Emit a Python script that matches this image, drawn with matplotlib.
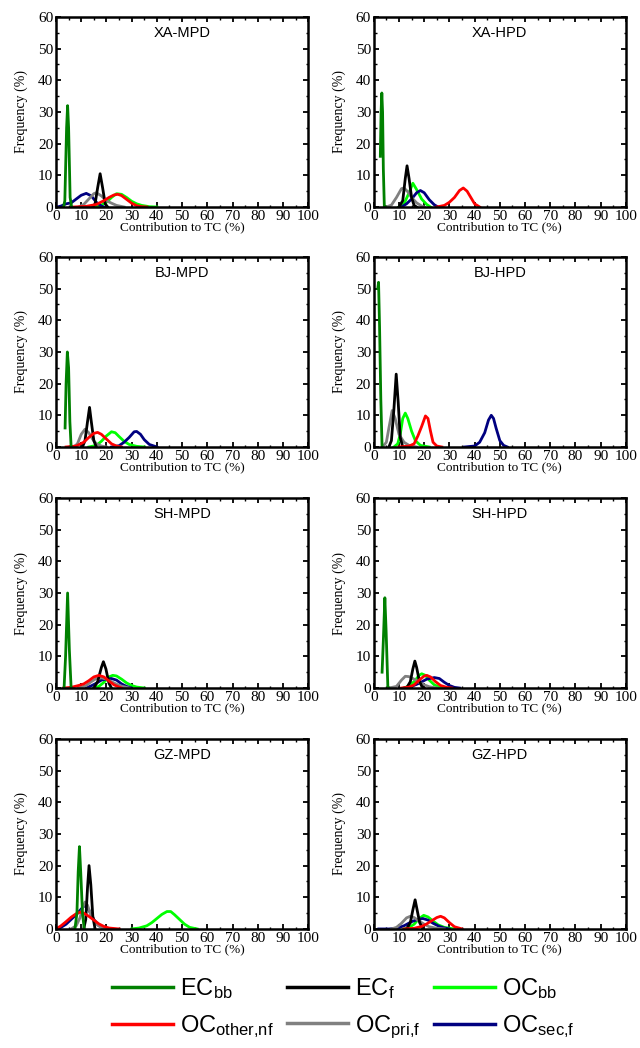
import matplotlib
matplotlib.use("Agg")
import matplotlib.pyplot as plt
from matplotlib.ticker import MultipleLocator
from matplotlib.lines import Line2D

plt.rcParams['font.family'] = ['Liberation Serif', 'DejaVu Serif']
plt.rcParams['mathtext.default'] = 'regular'

# series names, colours and legend labels
species = ['EC_bb', 'EC_f', 'OC_bb', 'OC_other_nf', 'OC_pri_f', 'OC_sec_f']
colors = {'EC_bb': '#008000', 'EC_f': '#000000', 'OC_bb': '#00ff00',
          'OC_other_nf': '#ff0000', 'OC_pri_f': '#808080', 'OC_sec_f': '#000080'}
labels = {'EC_bb': r'EC$_{bb}$', 'EC_f': r'EC$_{f}$', 'OC_bb': r'OC$_{bb}$',
          'OC_other_nf': r'OC$_{other{,}nf}$', 'OC_pri_f': r'OC$_{pri{,}f}$',
          'OC_sec_f': r'OC$_{sec{,}f}$'}
panel_titles = ['XA-MPD', 'XA-HPD', 'BJ-MPD', 'BJ-HPD',
                'SH-MPD', 'SH-HPD', 'GZ-MPD', 'GZ-HPD']

# (contribution %, frequency %)
xa_mpd = {
    'EC_bb': [(3, 0), (3.5, 2), (4.2, 25), (4.6, 32), (5.0, 25), (5.6, 3), (6.2, 0)],
    'EC_f': [(14.5, 0), (15.5, 1), (16.5, 6), (17.5, 10.5), (18.5, 6), (19.5, 1), (20.5, 0)],
    'OC_bb': [(15, 0), (18, 0.6), (20, 1.5), (22, 3), (24, 4.2), (26, 4), (28, 3), (30, 1.8),
              (32, 1), (34, 0.5), (37, 0.1), (40, 0)],
    'OC_other_nf': [(7, 0), (12, 0.2), (16, 0.8), (19, 2), (21, 3), (23, 3.8), (24.5, 4),
                    (26, 3.6), (28, 2.4), (30, 1.2), (32, 0.4), (34, 0.1), (36, 0)],
    'OC_pri_f': [(9, 0), (11, 0.8), (13, 2.5), (15, 4.2), (16, 4.5), (18, 3.5), (20, 2),
                 (22, 1.2), (24, 0.5), (27, 0)],
    'OC_sec_f': [(0.5, 0), (2, 0.3), (4, 1), (6, 1.3), (8, 2.5), (10, 3.7), (12, 4.3),
                 (14, 3.5), (16, 1.5), (18, 0.3), (19, 0)],
}
xa_hpd = {
    'EC_bb': [(2.6, 16), (2.9, 30), (3.2, 36), (3.5, 30), (3.8, 12), (4.2, 0), (4.6, 0)],
    'EC_f': [(10, 0), (11.5, 2), (12.5, 9), (13.2, 13), (14, 9), (15, 3), (16, 0.5), (17, 0)],
    'OC_bb': [(10, 0), (12, 1), (14, 4.5), (15.5, 7.5), (17, 5.5), (19, 2.5), (21, 0.8), (22.5, 0)],
    'OC_other_nf': [(25, 0), (28, 0.5), (30, 1.5), (32, 3), (34, 5.2), (35.5, 6), (37, 5),
                    (38.5, 3), (40, 1), (42, 0)],
    'OC_pri_f': [(5, 0), (7, 0.6), (9, 3), (11, 5.8), (12, 6), (13.5, 4.8), (15, 3), (17, 1.3),
                 (19, 0.3), (20, 0)],
    'OC_sec_f': [(11, 0), (13, 1), (15, 2.5), (17, 4.5), (18.5, 5.2), (20, 4.5), (22, 2.3),
                 (24, 0.7), (25.5, 0)],
}
bj_mpd = {
    'EC_bb': [(3.6, 6), (4, 20), (4.5, 30), (5, 25), (5.5, 8), (6, 0)],
    'EC_f': [(10.5, 0), (11.5, 2), (12.5, 8), (13.3, 12.5), (14, 8), (15, 2), (16, 0)],
    'OC_bb': [(13, 0), (16, 0.5), (18, 1.8), (20, 3.5), (22, 4.8), (23.5, 4.5), (25, 3.3),
              (27, 1.8), (29, 0.8), (32, 0.2), (35, 0)],
    'OC_other_nf': [(4, 0), (8, 0.3), (11, 1.5), (13, 3), (15, 4.3), (16.5, 4.6), (18, 4),
                    (20, 2.5), (22, 1), (24, 0.3), (26, 0)],
    'OC_pri_f': [(7, 0), (8.5, 1), (10, 4), (11.5, 5.6), (13, 4.5), (14.5, 2.5), (16, 1),
                 (18, 0.3), (20, 0)],
    'OC_sec_f': [(22, 0), (25, 0.4), (27, 1.5), (29, 3), (31, 4.8), (32, 4.9), (33.5, 4),
                 (35, 2.3), (37, 0.8), (40, 0)],
}
bj_hpd = {
    'EC_bb': [(1.6, 50), (1.9, 52), (2.3, 38), (2.8, 15), (3.3, 0)],
    'EC_f': [(6, 0), (7, 2), (8, 12), (8.9, 23), (9.7, 14), (10.5, 3), (11.5, 0)],
    'OC_bb': [(8, 0), (9.5, 1), (10.5, 4), (11.5, 9), (12.5, 10.7), (13.5, 9), (15, 5),
              (16.5, 2), (18.5, 0.5), (22, 0)],
    'OC_other_nf': [(10, 0), (14, 0.3), (16, 1), (17.5, 3.5), (19, 6.5), (20.5, 9.8),
                    (21.5, 9), (22.5, 5), (23.5, 1.5), (25, 0.3), (27, 0)],
    'OC_pri_f': [(3.5, 0), (5, 1.5), (6, 6), (7.3, 11.5), (8.5, 9), (10, 4), (12, 1.5),
                 (14, 0.5), (17, 0)],
    'OC_sec_f': [(36, 0), (40, 0.3), (42, 1.5), (44, 4.5), (45.5, 8.5), (46.6, 10), (47.5, 9),
                 (48.5, 6), (50, 2), (51.5, 0.5), (53, 0)],
}
sh_mpd = {
    'EC_bb': [(3.2, 0), (3.8, 10), (4.6, 30), (5.3, 12), (6, 0)],
    'EC_f': [(15, 0), (16.5, 2), (18, 6.5), (18.8, 8.3), (19.8, 6), (21, 1.5), (22, 0)],
    'OC_bb': [(15, 0), (17, 0.5), (19, 1.8), (21, 3.5), (22.5, 4), (24, 3.8), (26, 2.8),
              (28, 1.6), (30, 0.8), (32, 0.3), (35, 0)],
    'OC_other_nf': [(3, 0), (6, 0.2), (9, 0.8), (11, 1.3), (13, 2.3), (15, 3.5), (17, 4),
                    (19, 3.5), (21, 2.2), (23, 1), (25, 0.3), (26, 0)],
    'OC_pri_f': [(9, 0), (12, 0.8), (14, 2), (16, 3), (18, 3.2), (20, 2.8), (22, 2),
                 (24, 1.2), (26, 0.6), (29, 0)],
    'OC_sec_f': [(12, 0), (14, 0.7), (16, 1.5), (18, 2.5), (20, 2.8), (22, 3), (24, 2.5),
                 (26, 1.3), (28, 0.5), (30, 0)],
}
sh_hpd = {
    'EC_bb': [(3.3, 5), (3.8, 15), (4.4, 28.5), (4.9, 18), (5.6, 0), (6, 0)],
    'EC_f': [(13, 0), (14.5, 2), (15.5, 6), (16.3, 8.5), (17, 6.5), (18, 2.5), (19, 0.6), (20, 0)],
    'OC_bb': [(12, 0), (14, 0.7), (16, 2), (18, 4), (19, 4.5), (20.5, 4), (22, 2.5), (24, 1), (27, 0)],
    'OC_other_nf': [(11, 0), (14, 0.3), (16, 1), (18, 2.5), (20, 3.8), (21, 4), (22.5, 3.5),
                    (24.5, 2), (26.5, 0.8), (29, 0.2), (31, 0)],
    'OC_pri_f': [(6, 0), (9, 0.5), (11, 2.5), (12.5, 3.7), (14, 3.6), (16, 2.8), (18, 1.8),
                 (20, 1), (22, 0.4), (25, 0)],
    'OC_sec_f': [(12, 0), (15, 0.5), (18, 1.5), (21, 2.8), (24, 3.3), (26, 3), (28, 1.8),
                 (30, 0.8), (32, 0.2), (34, 0)],
}
gz_mpd = {
    'EC_bb': [(7.5, 0), (8.3, 5), (8.8, 18), (9.3, 26), (9.8, 18), (10.5, 5), (11.2, 0)],
    'EC_f': [(11, 0), (11.8, 3), (12.5, 13), (13.1, 20), (13.8, 14), (14.6, 4), (15.5, 0)],
    'OC_bb': [(30, 0), (33, 0.3), (36, 1), (38, 2), (40, 3.3), (42, 4.6), (44, 5.5),
              (45.5, 5.5), (47, 4.5), (49, 3), (51, 1.5), (53, 0.5), (56, 0)],
    'OC_other_nf': [(0, 0), (2, 1), (4, 2.3), (6, 3.7), (8, 4.8), (9.5, 5.3), (11, 5),
                    (13, 4), (15, 2.8), (17, 1.6), (19, 0.8), (21, 0.3), (25, 0)],
    'OC_pri_f': [(6, 0), (8, 1), (9.5, 3.5), (10.5, 6.5), (11.5, 8.5), (12.5, 7.5), (14, 4),
                 (16, 1.5), (18, 0.5), (20, 0)],
    'OC_sec_f': [(0, 0), (2, 0.5), (4, 1.5), (6, 3), (8, 4.5), (10, 6.3), (11.5, 7.5),
                 (13, 6), (15, 3), (17, 1), (19, 0.3), (21, 0)],
}
gz_hpd = {
    'EC_bb': [],
    'EC_f': [(13, 0), (14.5, 2), (15.5, 6), (16.4, 9.2), (17.2, 6), (18.2, 2), (19.5, 0)],
    'OC_bb': [(12, 0), (14, 0.5), (16, 1.5), (18, 3.3), (19.8, 4.3), (21.5, 3.8), (23.5, 2.5),
              (25.5, 1.3), (28, 0.5), (32, 0)],
    'OC_other_nf': [(12, 0), (16, 0.2), (19, 0.8), (21, 1.6), (23, 2.6), (25, 3.6), (26.5, 4),
                    (28, 3.5), (30, 2), (32, 0.7), (35, 0)],
    'OC_pri_f': [(7, 0), (9, 0.5), (11, 1.8), (13, 3.5), (14.5, 4), (16, 3.6), (18, 2.5),
                 (20, 1.5), (22, 0.7), (25, 0.2), (28, 0)],
    'OC_sec_f': [(2, 0), (6, 0), (9, 0.2), (12, 1), (15, 2.3), (17.5, 3), (19.5, 3.3),
                 (21.5, 2.8), (23.5, 1.8), (26, 0.8), (28, 0.3), (30, 0)],
}
panels = [xa_mpd, xa_hpd, bj_mpd, bj_hpd, sh_mpd, sh_hpd, gz_mpd, gz_hpd]

draw_order = ['OC_bb', 'OC_sec_f', 'OC_pri_f', 'EC_f', 'OC_other_nf', 'EC_bb']

fig = plt.figure(figsize=(6.4, 10.48), dpi=100)
col_left = [0.0875, 0.584]
row_bottom = [0.8025, 0.5735, 0.3435, 0.1136]
w, h = 0.394, 0.1813

for i, data in enumerate(panels):
    ax = fig.add_axes([col_left[i % 2], row_bottom[i // 2], w, h])
    for sp in draw_order:
        pts = data[sp]
        if not pts:
            continue
        xs = [p[0] for p in pts]
        ys = [p[1] for p in pts]
        ax.plot(xs, ys, color=colors[sp], lw=2.0, solid_joinstyle='round')
    ax.set_xlim(0, 100)
    ax.set_ylim(0, 60)
    ax.xaxis.set_major_locator(MultipleLocator(10))
    ax.yaxis.set_major_locator(MultipleLocator(10))
    ax.xaxis.set_minor_locator(MultipleLocator(5))
    ax.yaxis.set_minor_locator(MultipleLocator(5))
    ax.tick_params(which='both', direction='in', top=True, right=True, labelsize=11, pad=2)
    ax.tick_params(which='major', length=3.5, width=1.3)
    ax.tick_params(which='minor', length=1.8, width=1.0)
    for s in ax.spines.values():
        s.set_linewidth(1.8)
    ax.set_xlabel('Contribution to TC (%)', fontsize=9.5, labelpad=-1)
    ax.set_ylabel('Frequency (%)', fontsize=10, labelpad=7)
    ax.text(0.5, 0.915, panel_titles[i], transform=ax.transAxes, ha='center', va='center',
            fontsize=10.5, family=['Liberation Sans', 'DejaVu Sans'])

leg_order = ['EC_bb', 'OC_other_nf', 'EC_f', 'OC_pri_f', 'OC_bb', 'OC_sec_f']
handles = [Line2D([], [], color=colors[sp], lw=2.5) for sp in leg_order]
fig.legend(handles, [labels[sp] for sp in leg_order], loc='lower left',
           bbox_to_anchor=(0.145, -0.011), ncol=3, frameon=False, handlelength=2.6,
           handletextpad=0.3, columnspacing=0.55, labelspacing=0.5, borderpad=0.3,
           prop={'family': ['Liberation Sans', 'DejaVu Sans'], 'size': 17})

fig.savefig('out.png', dpi=100)
